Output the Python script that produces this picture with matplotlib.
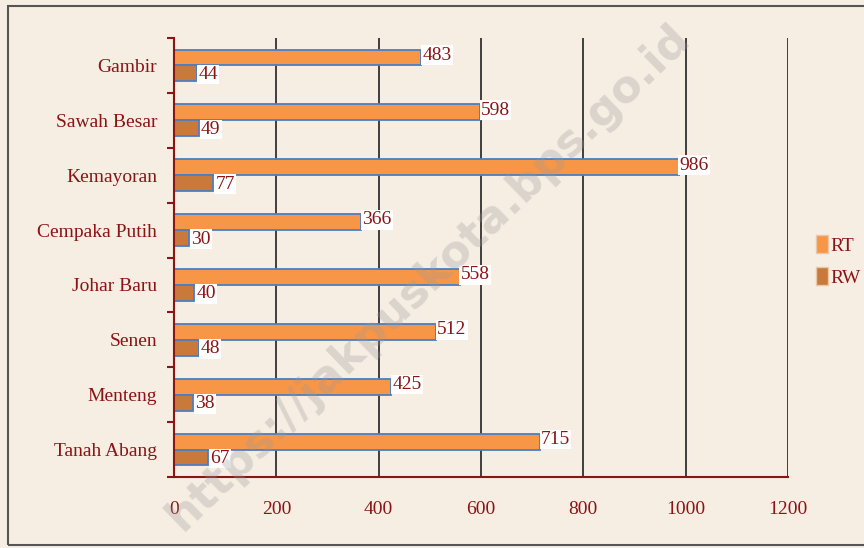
import matplotlib
matplotlib.use("Agg")
import matplotlib.pyplot as plt
import numpy as np
from matplotlib.patches import Rectangle, Patch

categories = ["Gambir", "Sawah Besar", "Kemayoran", "Cempaka Putih",
              "Johar Baru", "Senen", "Menteng", "Tanah Abang"]
rt = [483, 598, 986, 366, 558, 512, 425, 715]
rw = [44, 49, 77, 30, 40, 48, 38, 67]
xticks = [0, 200, 400, 600, 800, 1000, 1200]

bg = "#f6ede3"
txt = "#8b1414"
edge = "#4a7fc4"
c_rt = "#f79646"
c_rw = "#c97a3a"

plt.rcParams['font.family'] = ['Liberation Serif', 'DejaVu Serif']
FS = 14

fig = plt.figure(figsize=(8.64, 5.48), dpi=100, facecolor=bg)
fig.patches.append(Rectangle((8/864, 3/548), 1.0, 539/548, transform=fig.transFigure,
                             fill=False, edgecolor="#555555", lw=1.5))
ax = fig.add_axes([174/864, 1 - 477/548, 614/864, 439/548])
ax.set_facecolor(bg)

y = np.arange(len(categories))
h = 0.29
ax.barh(y - h/2, rt, height=h, color=c_rt, edgecolor=edge, lw=1.3, zorder=3, label="RT")
ax.barh(y + h/2, rw, height=h, color=c_rw, edgecolor=edge, lw=1.3, zorder=3, label="RW")

for yi, v in zip(y, rt):
    ax.text(v + 2, yi - h/2 - 0.04, str(v), color=txt, fontsize=FS, va='center', ha='left',
            bbox=dict(facecolor='white', edgecolor='none', pad=1), zorder=4)
for yi, v in zip(y, rw):
    ax.text(v + 4, yi + h/2 + 0.02, str(v), color=txt, fontsize=FS, va='center', ha='left',
            bbox=dict(facecolor='white', edgecolor='none', pad=1), zorder=4)

ax.set_ylim(len(categories) - 0.5, -0.5)
ax.set_xlim(0, 1200)
ax.set_yticks(y)
ax.set_yticklabels(categories, color=txt, fontsize=FS)
ax.set_yticks(np.arange(-0.5, len(categories), 1), minor=True)
ax.tick_params(axis='y', which='major', length=0, pad=12)
ax.tick_params(axis='y', which='minor', length=5, color=txt, width=1.5)
ax.set_xticks(xticks)
ax.set_xticklabels([str(t) for t in xticks], color=txt, fontsize=FS)
ax.tick_params(axis='x', length=0, pad=17)
ax.grid(axis='x', color='#222222', lw=1.2, zorder=1)
for s in ['top', 'right']:
    ax.spines[s].set_visible(False)
for s in ['left', 'bottom']:
    ax.spines[s].set_color(txt)
    ax.spines[s].set_linewidth(1.5)
    ax.spines[s].set_zorder(5)

handles = [Patch(facecolor=c_rt, edgecolor='#e8c8a8', label='RT'),
           Patch(facecolor=c_rw, edgecolor='#e8c8a8', label='RW')]
fig.legend(handles=handles, loc='center left', bbox_to_anchor=(816/864, 1 - 261/548),
           frameon=False, fontsize=FS, labelcolor=txt, handlelength=0.62, handleheight=1.0,
           handletextpad=0.1, labelspacing=0.65, borderpad=0, borderaxespad=0)

fig.text(0.495, 0.493, "https://jakpuskota.bps.go.id", rotation=44, fontsize=32,
         color='#9a9a9a', alpha=0.3, ha='center', va='center', family='DejaVu Sans',
         fontweight='bold', zorder=10)

fig.savefig("out.png", dpi=100, facecolor=bg)
